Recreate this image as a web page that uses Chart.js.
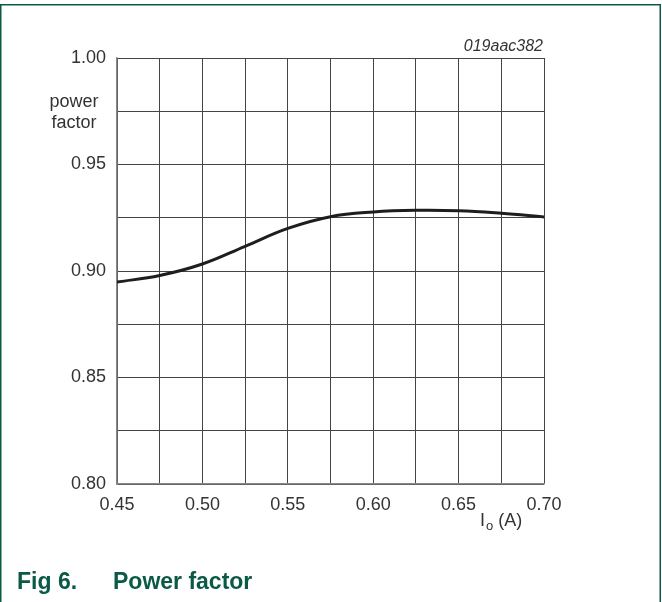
<!DOCTYPE html>
<html>
<head>
<meta charset="utf-8">
<script src="https://cdn.jsdelivr.net/npm/chart.js@4.4.1/dist/chart.umd.min.js"></script>
<style>
  html, body { margin: 0; padding: 0; background: #ffffff; }
  #wrap { position: relative; width: 662px; height: 602px; }
  canvas { display: block; }
</style>
</head>
<body>
<div id="wrap"><canvas id="c" width="662" height="602"></canvas></div>
<script>
// ---- data ----
const currentA = [0.45, 0.475, 0.50, 0.525, 0.55, 0.575, 0.60, 0.625, 0.65, 0.675, 0.70];
const powerFactor = [0.8948, 0.8979, 0.9033, 0.9116, 0.9200, 0.9255, 0.9277, 0.9285, 0.9283, 0.9271, 0.9254];
const xTickLabels = ['0.45', '0.50', '0.55', '0.60', '0.65', '0.70'];
const yTickLabels = ['0.80', '0.85', '0.90', '0.95', '1.00'];
const yAxisTitle = ['power', 'factor'];
const xAxisTitle = { main: 'I', sub: 'o', rest: ' (A)' };
const figCode = '019aac382';
const captionNum = 'Fig 6.';
const captionText = 'Power factor';

const FONT = "'Liberation Sans', Arial, Helvetica, sans-serif";
const GREEN = '#0b5a46';

function labelFor(list, v) {
  const s = v.toFixed(2);
  const isMajor = Math.abs(Math.round(v * 1000) % 50) === 0;
  return isMajor && list.indexOf(s) >= 0 ? s : '';
}

const decor = {
  id: 'decor',
  afterDraw(chart) {
    const ctx = chart.ctx;
    ctx.save();
    // frame
    ctx.strokeStyle = GREEN;
    ctx.lineWidth = 1.5;
    ctx.beginPath();
    ctx.moveTo(0.75, 602);
    ctx.lineTo(0.75, 4.75);
    ctx.lineTo(660.25, 4.75);
    ctx.lineTo(660.25, 602);
    ctx.stroke();

    // y axis title
    ctx.fillStyle = '#333333';
    ctx.font = '18px ' + FONT;
    ctx.textAlign = 'center';
    ctx.textBaseline = 'middle';
    ctx.fillText(yAxisTitle[0], 74, 102);
    ctx.fillText(yAxisTitle[1], 74, 123);

    // x axis title
    ctx.textAlign = 'left';
    ctx.font = '18px ' + FONT;
    let x = 480;
    ctx.fillText(xAxisTitle.main, x, 521);
    x += ctx.measureText(xAxisTitle.main).width + 1;
    ctx.font = '13px ' + FONT;
    ctx.fillText(xAxisTitle.sub, x, 526);
    x += ctx.measureText(xAxisTitle.sub).width;
    ctx.font = '18px ' + FONT;
    ctx.fillText(xAxisTitle.rest, x, 521);

    // figure code
    ctx.font = 'italic 16px ' + FONT;
    ctx.textAlign = 'right';
    ctx.fillText(figCode, 543, 47);

    // caption
    ctx.fillStyle = GREEN;
    ctx.font = 'bold 23px ' + FONT;
    ctx.textAlign = 'left';
    ctx.textBaseline = 'alphabetic';
    ctx.fillText(captionNum, 17, 589);
    ctx.fillText(captionText, 113, 589);
    ctx.restore();
  }
};

new Chart(document.getElementById('c'), {
  type: 'line',
  data: {
    datasets: [{
      data: currentA.map((v, i) => ({ x: v, y: powerFactor[i] })),
      borderColor: '#1e1e1e',
      borderWidth: 3,
      pointRadius: 0,
      fill: false,
      tension: 0.4
    }]
  },
  options: {
    responsive: false,
    animation: false,
    events: [],
    layout: { padding: { left: 0, top: 58, right: 118, bottom: 0 } },
    plugins: { legend: { display: false }, tooltip: { enabled: false }, title: { display: false } },
    scales: {
      x: {
        type: 'linear',
        min: 0.45, max: 0.70,
        afterFit(s) { s.height = 118; },
        grid: { color: '#444444', lineWidth: 1, drawTicks: false },
        border: { color: '#888888', width: 1.5 },
        ticks: {
          stepSize: 0.025,
          padding: 10,
          autoSkip: false,
          maxRotation: 0,
          color: '#333333',
          font: { family: FONT, size: 18 },
          callback: (v) => labelFor(xTickLabels, v)
        }
      },
      y: {
        type: 'linear',
        min: 0.80, max: 1.00,
        afterFit(s) { s.width = 117; },
        grid: { color: '#444444', lineWidth: 1, drawTicks: false },
        border: { color: '#888888', width: 1.5 },
        ticks: {
          stepSize: 0.025,
          padding: 11,
          autoSkip: false,
          color: '#333333',
          font: { family: FONT, size: 18 },
          callback: (v) => labelFor(yTickLabels, v)
        }
      }
    }
  },
  plugins: [decor]
});
</script>
</body>
</html>
